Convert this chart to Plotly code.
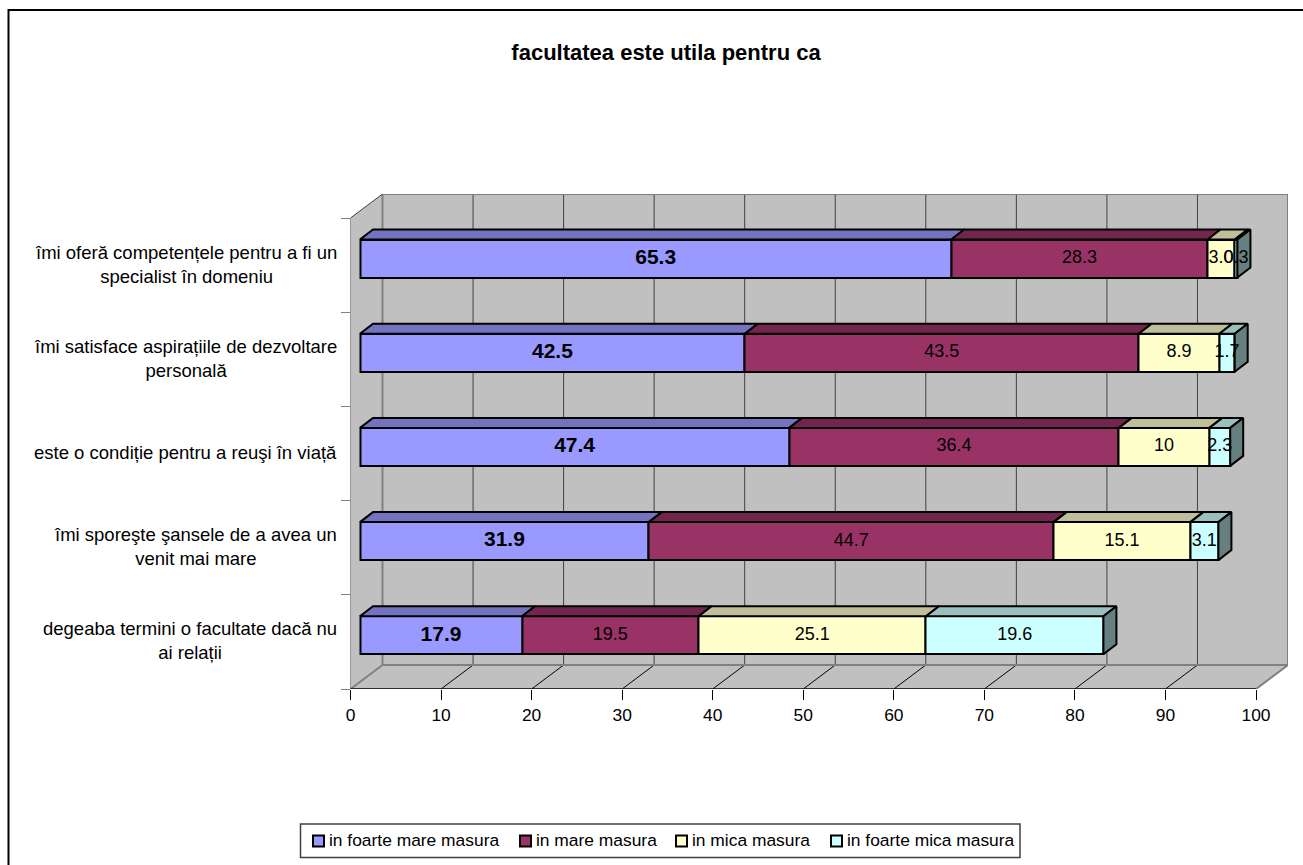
import plotly.graph_objects as go

TITLE = "facultatea este utila pentru ca"
# rows from top to bottom, as in the picture
CATEGORIES = [
    "îmi oferă competențele pentru a fi un<br>specialist în domeniu",
    "îmi satisface aspirațiile de dezvoltare<br>personală",
    "este o condiție pentru a reuşi în viață",
    "îmi sporeşte şansele de a avea un<br>venit mai mare",
    "degeaba termini o facultate dacă nu<br>ai relații",
]
SERIES_NAMES = [
    "in foarte mare masura",
    "in mare masura",
    "in mica masura",
    "in foarte mica masura",
]
FOARTE_MARE = [65.3, 42.5, 47.4, 31.9, 17.9]
MARE = [28.3, 43.5, 36.4, 44.7, 19.5]
MICA = [3.0, 8.9, 10, 15.1, 25.1]
FOARTE_MICA = [0.3, 1.7, 2.3, 3.1, 19.6]
X_TICKS = [0, 10, 20, 30, 40, 50, 60, 70, 80, 90, 100]

COLORS = ["#9999FF", "#993366", "#FFFFCC", "#CCFFFF"]
TOP_COLORS = ["#7373BF", "#73264D", "#BFBF99", "#99BFBF"]
SIDE_COLOR = "#668080"
WALL = "#C0C0C0"
EDGE = "#808080"
FONT = "Liberation Sans, Arial, sans-serif"
FONT_SIZE = 17.4

W, H = 1303, 865
LEFT, RIGHT, TOP, BOTTOM = 350.5, 1288, 194, 689

# fake 3D depth, in axis units
DEPTH_X = 32 / 9.055
DEPTH_Y = 24 / 94.2
BAR_X0 = 9.5 / 9.055
BAR_Y0 = 0.07
BAR_W = 38 / 94.2
BAR_DX = 13 / 9.055
BAR_DY = 10 / 94.2
X_MAX = (RIGHT - LEFT) / 9.055
Y_MAX = 5 + DEPTH_Y


def data_line(x0, y0, x1, y1, color, width=1):
    return dict(type="line", xref="x", yref="y", x0=x0, y0=y0, x1=x1, y1=y1,
                layer="below", line=dict(color=color, width=width))


def polygon(xs, ys, color):
    return go.Scatter(
        x=xs + xs[:1], y=ys + ys[:1], mode="lines", fill="toself", fillcolor=color,
        line=dict(color="black", width=2), showlegend=False, hoverinfo="skip",
    )


def paper_x(px):
    return px / W


def paper_y(py):
    return 1 - py / H


shapes = []
# back wall, left wall, floor
shapes.append(dict(type="path", xref="x", yref="y", layer="below", line=dict(width=0), fillcolor=WALL,
                   path=f"M {DEPTH_X} {DEPTH_Y} L {X_MAX} {DEPTH_Y} L {X_MAX} {Y_MAX} L {DEPTH_X} {Y_MAX} Z"))
shapes.append(dict(type="path", xref="x", yref="y", layer="below", line=dict(width=0), fillcolor=WALL,
                   path=f"M 0 0 L {DEPTH_X} {DEPTH_Y} L {DEPTH_X} {Y_MAX} L 0 5 Z"))
shapes.append(dict(type="path", xref="x", yref="y", layer="below", line=dict(width=0), fillcolor=WALL,
                   path=f"M 0 0 L 100 0 L {X_MAX} {DEPTH_Y} L {DEPTH_X} {DEPTH_Y} Z"))

for tick in X_TICKS:
    edge = tick in (0, 100)
    shapes.append(data_line(tick + DEPTH_X, DEPTH_Y, tick + DEPTH_X, Y_MAX, EDGE if edge else "#404040", 2 if edge else 1))
    shapes.append(data_line(tick, 0, tick + DEPTH_X, DEPTH_Y, EDGE if edge else "black", 2 if edge else 1))

shapes.append(data_line(DEPTH_X, DEPTH_Y, X_MAX, DEPTH_Y, EDGE, 2))
shapes.append(data_line(DEPTH_X, Y_MAX, X_MAX, Y_MAX, EDGE, 2))
shapes.append(data_line(0, 0, 0, 5, "#404040", 1))
shapes.append(data_line(0, 5, DEPTH_X, Y_MAX, "#404040", 1))
shapes.append(data_line(0, 0, 100, 0, "black", 1.5))

# outer frame of the chart, cut by the page on the right and bottom
shapes.append(dict(type="rect", xref="paper", yref="paper", x0=paper_x(8.5), x1=paper_x(W + 20),
                   y0=paper_y(H + 20), y1=paper_y(10), layer="below", line=dict(color="black", width=2)))

fig = go.Figure()
row_y = [4.5 - i + BAR_Y0 for i in range(len(CATEGORIES))]
all_series = [FOARTE_MARE, MARE, MICA, FOARTE_MICA]

cumulative = [BAR_X0] * len(CATEGORIES)
for s, values in enumerate(all_series):
    fig.add_trace(go.Bar(
        x=values, y=row_y, base=cumulative, orientation="h", width=BAR_W, name=SERIES_NAMES[s],
        marker=dict(color=COLORS[s], line=dict(color="black", width=2)), showlegend=False,
    ))
    for r, value in enumerate(values):
        x0, x1 = cumulative[r], cumulative[r] + value
        y_top = row_y[r] + BAR_W / 2
        fig.add_trace(polygon([x0, x1, x1 + BAR_DX, x0 + BAR_DX],
                              [y_top, y_top, y_top + BAR_DY, y_top + BAR_DY], TOP_COLORS[s]))
    cumulative = [c + v for c, v in zip(cumulative, values)]

# side faces at the end of each stacked bar
for r, end in enumerate(cumulative):
    y_low, y_top = row_y[r] - BAR_W / 2, row_y[r] + BAR_W / 2
    fig.add_trace(polygon([end, end + BAR_DX, end + BAR_DX, end],
                          [y_low, y_low + BAR_DY, y_top + BAR_DY, y_top], SIDE_COLOR))

# value labels go last so that they sit on top of all faces
cumulative = [BAR_X0] * len(CATEGORIES)
for s, values in enumerate(all_series):
    fig.add_trace(go.Scatter(
        x=[c + v / 2 for c, v in zip(cumulative, values)], y=row_y, mode="text",
        text=[str(v) for v in values], textposition="middle center", showlegend=False, hoverinfo="skip",
        textfont=dict(family=FONT, size=21 if s == 0 else 18, color="black"),
        texttemplate="<b>%{text}</b>" if s == 0 else "%{text}",
    ))
    cumulative = [c + v for c, v in zip(cumulative, values)]

annotations = []
for i, label in enumerate(CATEGORIES):
    annotations.append(dict(text=label, x=0, y=4.5 - i, xref="x", yref="y", xanchor="right", yanchor="middle",
                            xshift=-11, yshift=1, align="center", showarrow=False,
                            font=dict(family=FONT, size=18.5, color="black")))

# legend box, built by hand because the swatch sits tight against the text
shapes.append(dict(type="rect", xref="paper", yref="paper", x0=paper_x(300.5), x1=paper_x(1020),
                   y0=paper_y(857.5), y1=paper_y(824), line=dict(color="#404040", width=1.5), fillcolor="white"))
for name, color, swatch_x in zip(SERIES_NAMES, COLORS, [313, 520, 676, 831]):
    shapes.append(dict(type="rect", xref="paper", yref="paper", x0=paper_x(swatch_x), x1=paper_x(swatch_x + 11),
                       y0=paper_y(846.5), y1=paper_y(835.5), fillcolor=color, line=dict(color="black", width=2)))
    annotations.append(dict(text=name, x=paper_x(swatch_x + 14), y=paper_y(840), xref="paper", yref="paper",
                            xanchor="left", yanchor="middle", showarrow=False,
                            font=dict(family=FONT, size=FONT_SIZE, color="black")))

fig.update_layout(
    width=W, height=H, margin=dict(l=0, r=0, t=0, b=0, pad=0),
    paper_bgcolor="white", plot_bgcolor="rgba(0,0,0,0)",
    barmode="overlay", showlegend=False, bargap=0,
    title=dict(text=f"<b>{TITLE}</b>", x=paper_x(666), xanchor="center", y=paper_y(52), yanchor="middle",
               automargin=False, font=dict(family=FONT, size=22, color="black")),
    xaxis=dict(domain=[paper_x(LEFT), paper_x(RIGHT)], range=[0, X_MAX], tickvals=X_TICKS, ticks="outside",
               ticklen=10, tickcolor="black", tickwidth=1, showgrid=False, zeroline=False, showline=False,
               automargin=False, tickfont=dict(family=FONT, size=FONT_SIZE, color="black")),
    yaxis=dict(domain=[paper_y(BOTTOM), paper_y(TOP)], range=[0, Y_MAX], tickvals=[0, 1, 2, 3, 4, 5], ticks="outside",
               ticklen=9, tickcolor=EDGE, tickwidth=1, showticklabels=False, showgrid=False, zeroline=False, showline=False,
               automargin=False),
    shapes=shapes, annotations=annotations,
)

fig.write_html("out.html", config={"displayModeBar": False}, post_script="document.body.style.margin='0';")
